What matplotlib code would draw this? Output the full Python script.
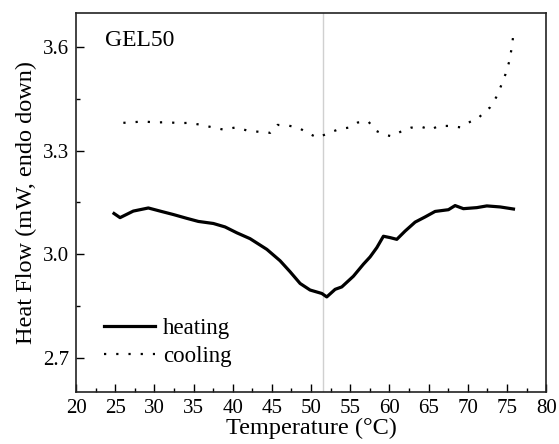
import numpy as np
import matplotlib.pyplot as plt
from matplotlib.ticker import MultipleLocator

plt.rcParams['font.family'] = ['Liberation Serif', 'DejaVu Serif']
plt.rcParams['mathtext.fontset'] = 'stix'

# heating curve
heat_T = [24.85, 25.62, 27.31, 29.23, 30.72, 32.42, 34.13, 35.61, 37.53, 39.02,
          40.52, 42.21, 44.35, 46.04, 47.32, 48.60, 49.87, 51.37, 52.00, 53.07,
          53.92, 55.40, 56.68, 57.53, 58.39, 59.23, 60.09, 60.94, 62.00, 63.28,
          64.55, 65.83, 67.53, 68.38, 69.44, 71.15, 72.43, 74.13, 75.83]
heat_hf = [3.118, 3.106, 3.125, 3.134, 3.125, 3.115, 3.104, 3.095, 3.089, 3.079,
           3.062, 3.045, 3.014, 2.981, 2.949, 2.915, 2.896, 2.886, 2.876, 2.898,
           2.905, 2.936, 2.971, 2.992, 3.019, 3.052, 3.048, 3.043, 3.067, 3.093,
           3.108, 3.124, 3.129, 3.141, 3.132, 3.135, 3.140, 3.137, 3.131]

# cooling curve
cool_T = [26.04, 27.40, 28.59, 30.21, 31.58, 33.19, 34.46, 35.74, 37.20, 38.89,
          40.43, 41.79, 43.32, 44.77, 45.70, 47.10, 48.38, 49.53, 50.81, 52.21,
          53.49, 54.76, 55.96, 57.32, 58.17, 59.45, 60.30, 61.58, 62.77, 64.01,
          65.28, 66.25, 67.75, 69.02, 70.30, 71.36, 71.92, 72.85, 73.62, 74.22,
          74.81, 75.28, 75.57, 75.83]
cool_hf = [3.381, 3.383, 3.385, 3.382, 3.383, 3.380, 3.381, 3.376, 3.369, 3.361,
           3.368, 3.359, 3.355, 3.352, 3.375, 3.373, 3.367, 3.352, 3.338, 3.351,
           3.362, 3.367, 3.382, 3.385, 3.359, 3.346, 3.342, 3.357, 3.367, 3.370,
           3.361, 3.372, 3.372, 3.368, 3.384, 3.395, 3.408, 3.426, 3.455, 3.487,
           3.522, 3.558, 3.594, 3.638]

peak_T = 51.5

fig = plt.figure(figsize=(5.59, 4.44), dpi=100)
ax = fig.add_axes([0.136, 0.117, 0.841, 0.854])

ax.axvline(peak_T, color='#d0d0d0', lw=1.0, zorder=1)
ax.plot(heat_T, heat_hf, color='black', lw=2.3, label='heating', zorder=3)
ax.plot(cool_T, cool_hf, color='black', lw=1.6, linestyle=(0, (1, 4.5)),
        label='cooling', zorder=3)

ax.set_xlim(20, 80)
ax.set_ylim(2.6, 3.7)
ax.xaxis.set_major_locator(MultipleLocator(5))
ax.xaxis.set_minor_locator(MultipleLocator(2.5))
ax.yaxis.set_major_locator(MultipleLocator(0.3))
ax.yaxis.set_minor_locator(MultipleLocator(0.15))
ax.tick_params(which='both', direction='in', top=False, right=False,
               labelsize=15, width=1.0)
ax.tick_params(which='major', length=5.5, pad=5)
ax.tick_params(which='minor', length=3)
for s in ax.spines.values():
    s.set_linewidth(1.2)
    s.set_color('#222222')

ax.set_xlabel('Temperature (°C)', fontsize=17.5, labelpad=0)
ax.set_ylabel('Heat Flow (mW, endo down)', fontsize=17.5, labelpad=4)

ax.text(0.062, 0.955, 'GEL50', transform=ax.transAxes, fontsize=17,
        ha='left', va='top')

ax.legend(loc='lower left', frameon=False, fontsize=16.5, handlelength=2.2,
          handletextpad=0.35, labelspacing=0.3, borderaxespad=0.0,
          bbox_to_anchor=(0.041, 0.042))

fig.savefig('out.png', dpi=100)
